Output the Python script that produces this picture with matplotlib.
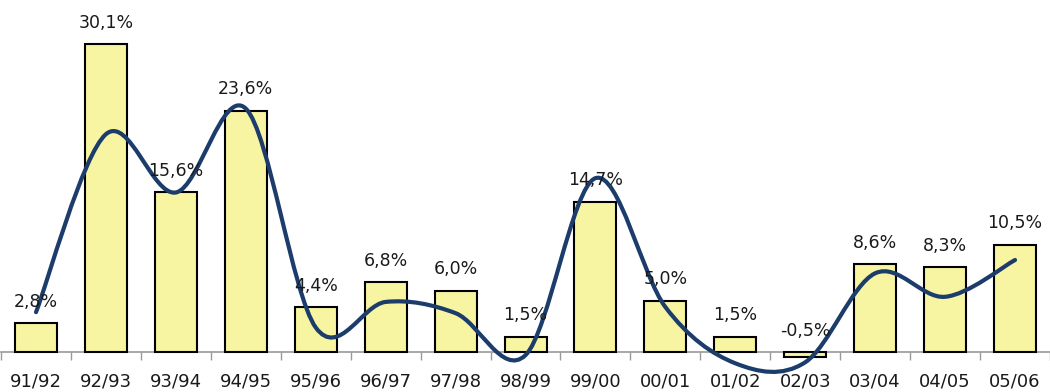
import matplotlib
matplotlib.use("Agg")
import matplotlib.pyplot as plt
from matplotlib.path import Path
from matplotlib.patches import PathPatch

# data
seasons = ["91/92", "92/93", "93/94", "94/95", "95/96", "96/97", "97/98", "98/99",
           "99/00", "00/01", "01/02", "02/03", "03/04", "04/05", "05/06"]
growth = [2.8, 30.1, 15.6, 23.6, 4.4, 6.8, 6.0, 1.5, 14.7, 5.0, 1.5, -0.5, 8.6, 8.3, 10.5]
trend = [3.9, 21.3, 15.6, 23.8, 2.4, 4.9, 3.8, -0.3, 17.0, 4.4, -1.1, -1.0, 7.7, 5.4, 9.0]

plt.rcParams["font.family"] = ["DejaVu Sans"]

fig = plt.figure(figsize=(10.5, 3.92), dpi=100)
ax = fig.add_axes([0.001, 0.0367, 0.999, 0.9263])

x = list(range(len(seasons)))
ax.bar(x, growth, width=0.6, color="#F7F4A2", edgecolor="black", linewidth=1.5, zorder=2)

# value labels above bars
for xi, v in zip(x, growth):
    ax.annotate(f"{v:.1f}%".replace(".", ","), (xi, max(v, 0)), xytext=(0, 9),
                textcoords="offset points", ha="center", va="bottom",
                fontsize=12.5, color="#1A1A1A", zorder=4)

# smoothed trend line (Catmull-Rom -> bezier, like the spreadsheet's smooth line)
pts = list(zip(x, trend))
verts = [pts[0]]
codes = [Path.MOVETO]
for i in range(len(pts) - 1):
    p0 = pts[i - 1] if i > 0 else pts[i]
    p1 = pts[i]
    p2 = pts[i + 1]
    p3 = pts[i + 2] if i + 2 < len(pts) else pts[i + 1]
    c1 = (p1[0] + (p2[0] - p0[0]) / 6, p1[1] + (p2[1] - p0[1]) / 6)
    c2 = (p2[0] - (p3[0] - p1[0]) / 6, p2[1] - (p3[1] - p1[1]) / 6)
    verts += [c1, c2, p2]
    codes += [Path.CURVE4] * 3
ax.add_patch(PathPatch(Path(verts, codes), facecolor="none", edgecolor="#1C3D6B",
                       linewidth=3, capstyle="round", zorder=3))

ax.set_xlim(-0.49, 14.4)
ax.set_ylim(-2.5, 33)

for s in ["top", "right", "left"]:
    ax.spines[s].set_visible(False)
ax.spines["bottom"].set_position(("data", 0))
ax.spines["bottom"].set_color("#9A9A9A")
ax.spines["bottom"].set_linewidth(1.2)
ax.spines["bottom"].set_zorder(1)
ax.set_yticks([])

ax.set_xticks(x)
ax.set_xticklabels(seasons, fontsize=13, color="#1A1A1A")
ax.tick_params(axis="x", which="major", length=0, pad=15)
ax.set_xticks([i + 0.5 for i in range(-1, len(seasons))], minor=True)
ax.tick_params(axis="x", which="minor", length=6, width=1, color="#9A9A9A")

fig.savefig("out.png", dpi=100)
